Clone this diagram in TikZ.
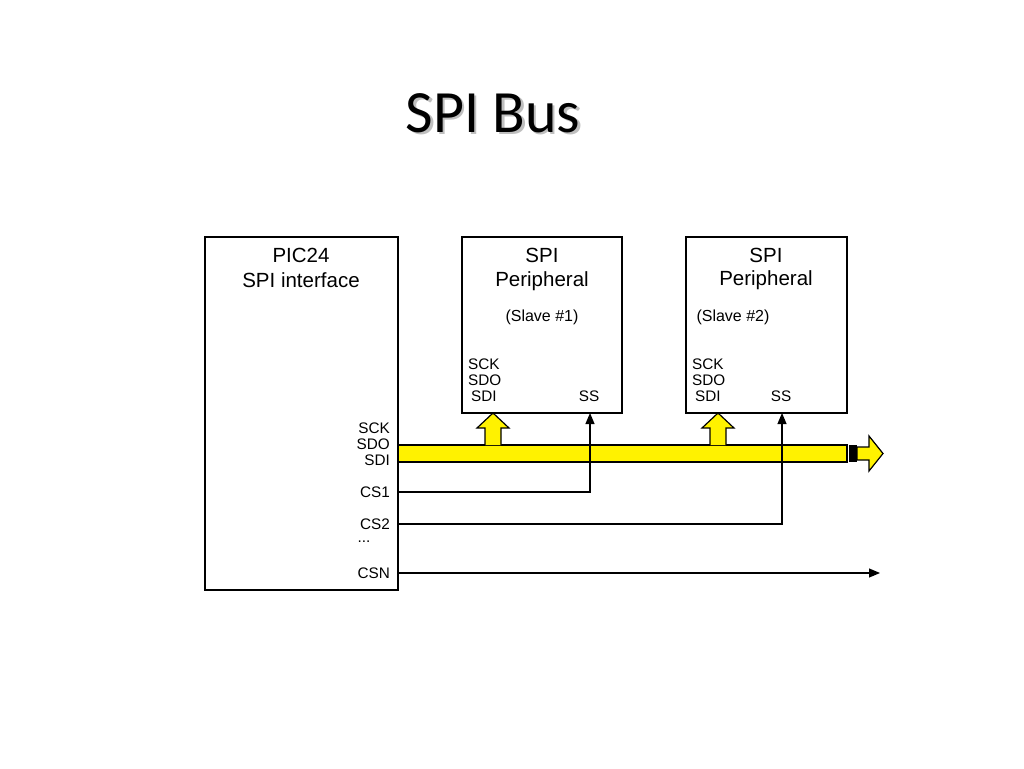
\documentclass[tikz,border=0pt]{standalone}
\usepackage{fontspec}
\setmainfont{Liberation Sans}
\newfontfamily\titlefont{Carlito}
\usetikzlibrary{arrows.meta}
\begin{document}
\begin{tikzpicture}[x=1pt,y=-1pt,
  box/.style={draw,line width=1.4pt,inner sep=0},
  big/.style={font=\fontsize{20.5}{23}\selectfont},
  mid/.style={font=\fontsize{16}{18}\selectfont},
  sig/.style={font=\fontsize{15.3}{17}\selectfont,inner sep=0},
  wire/.style={line width=1.1pt},
  warr/.style={wire,-{Triangle[length=11pt,width=9pt]}},
  ybus/.style={draw,fill=yellow,line width=1.2pt}]
\useasboundingbox (0,0) rectangle (1024,768);
\node[font=\titlefont\fontsize{60}{66}\selectfont,text=black!25] (shadow) at (495.5,115.5) {SPI Bus};
\node (title) [font=\titlefont\fontsize{60}{66}\selectfont] at (493,113) {SPI Bus};
% boxes
\draw[box] (205,237) rectangle (398,590);
\draw[box] (462,237) rectangle (622,413);
\draw[box] (686,237) rectangle (847,413);
\node[big] (p1) at (301,255) {PIC24};
\node[big] (p2) at (301,280) {SPI interface};
\node[big] (s1a) at (542,255) {SPI};
\node[big] (s1b) at (542,281) {Peripheral};
\node[mid] (s1c) at (542,317) {(Slave \#1)};
\node[big] (s2a) at (766,255) {SPI};
\node[big] (s2b) at (766,280) {Peripheral};
\node[mid] (s2c) at (733,317) {(Slave \#2)};
\foreach \x/\n in {468/a,692/b}{
  \node[sig,anchor=west] (sck\n) at (\x,364) {SCK};
  \node[sig,anchor=west] (sdo\n) at (\x,380) {SDO};
  \node[sig,anchor=west] (sdi\n) at (\x+3,396) {SDI};
}
\node[sig] (ssa) at (589,396) {SS};
\node[sig] (ssb) at (781,396) {SS};
\foreach \y/\t/\n in {428/SCK/psck,444/SDO/psdo,460/SDI/psdi,492/CS1/cs1,524/CS2/cs2,573/CSN/csn}
  \node[sig,anchor=east] (\n) at (390,\y) {\t};
\node[sig] (dots) at (364,542) {...};
% bus
\draw[ybus] (398,445) rectangle (847,462);
\fill (849,445) rectangle (857,462);
\draw[ybus] (857,447) -- (869,447) -- (869,436) -- (883,453.5) -- (869,471) -- (869,460) -- (857,460) -- cycle;
\foreach \x in {493,718}
  \draw[ybus] (\x-8,445) -- (\x-8,428) -- (\x-16,428) -- (\x,413) -- (\x+16,428) -- (\x+8,428) -- (\x+8,445);
% select lines
\coordinate (c1) at (590,492);
\coordinate (c2) at (782,524);
\coordinate (cend) at (880,573);
\draw[warr] (398,492) -- (c1) -- (590,413);
\draw[warr] (398,524) -- (c2) -- (782,413);
\draw[warr] (398,573) -- (cend);
\end{tikzpicture}
\end{document}
